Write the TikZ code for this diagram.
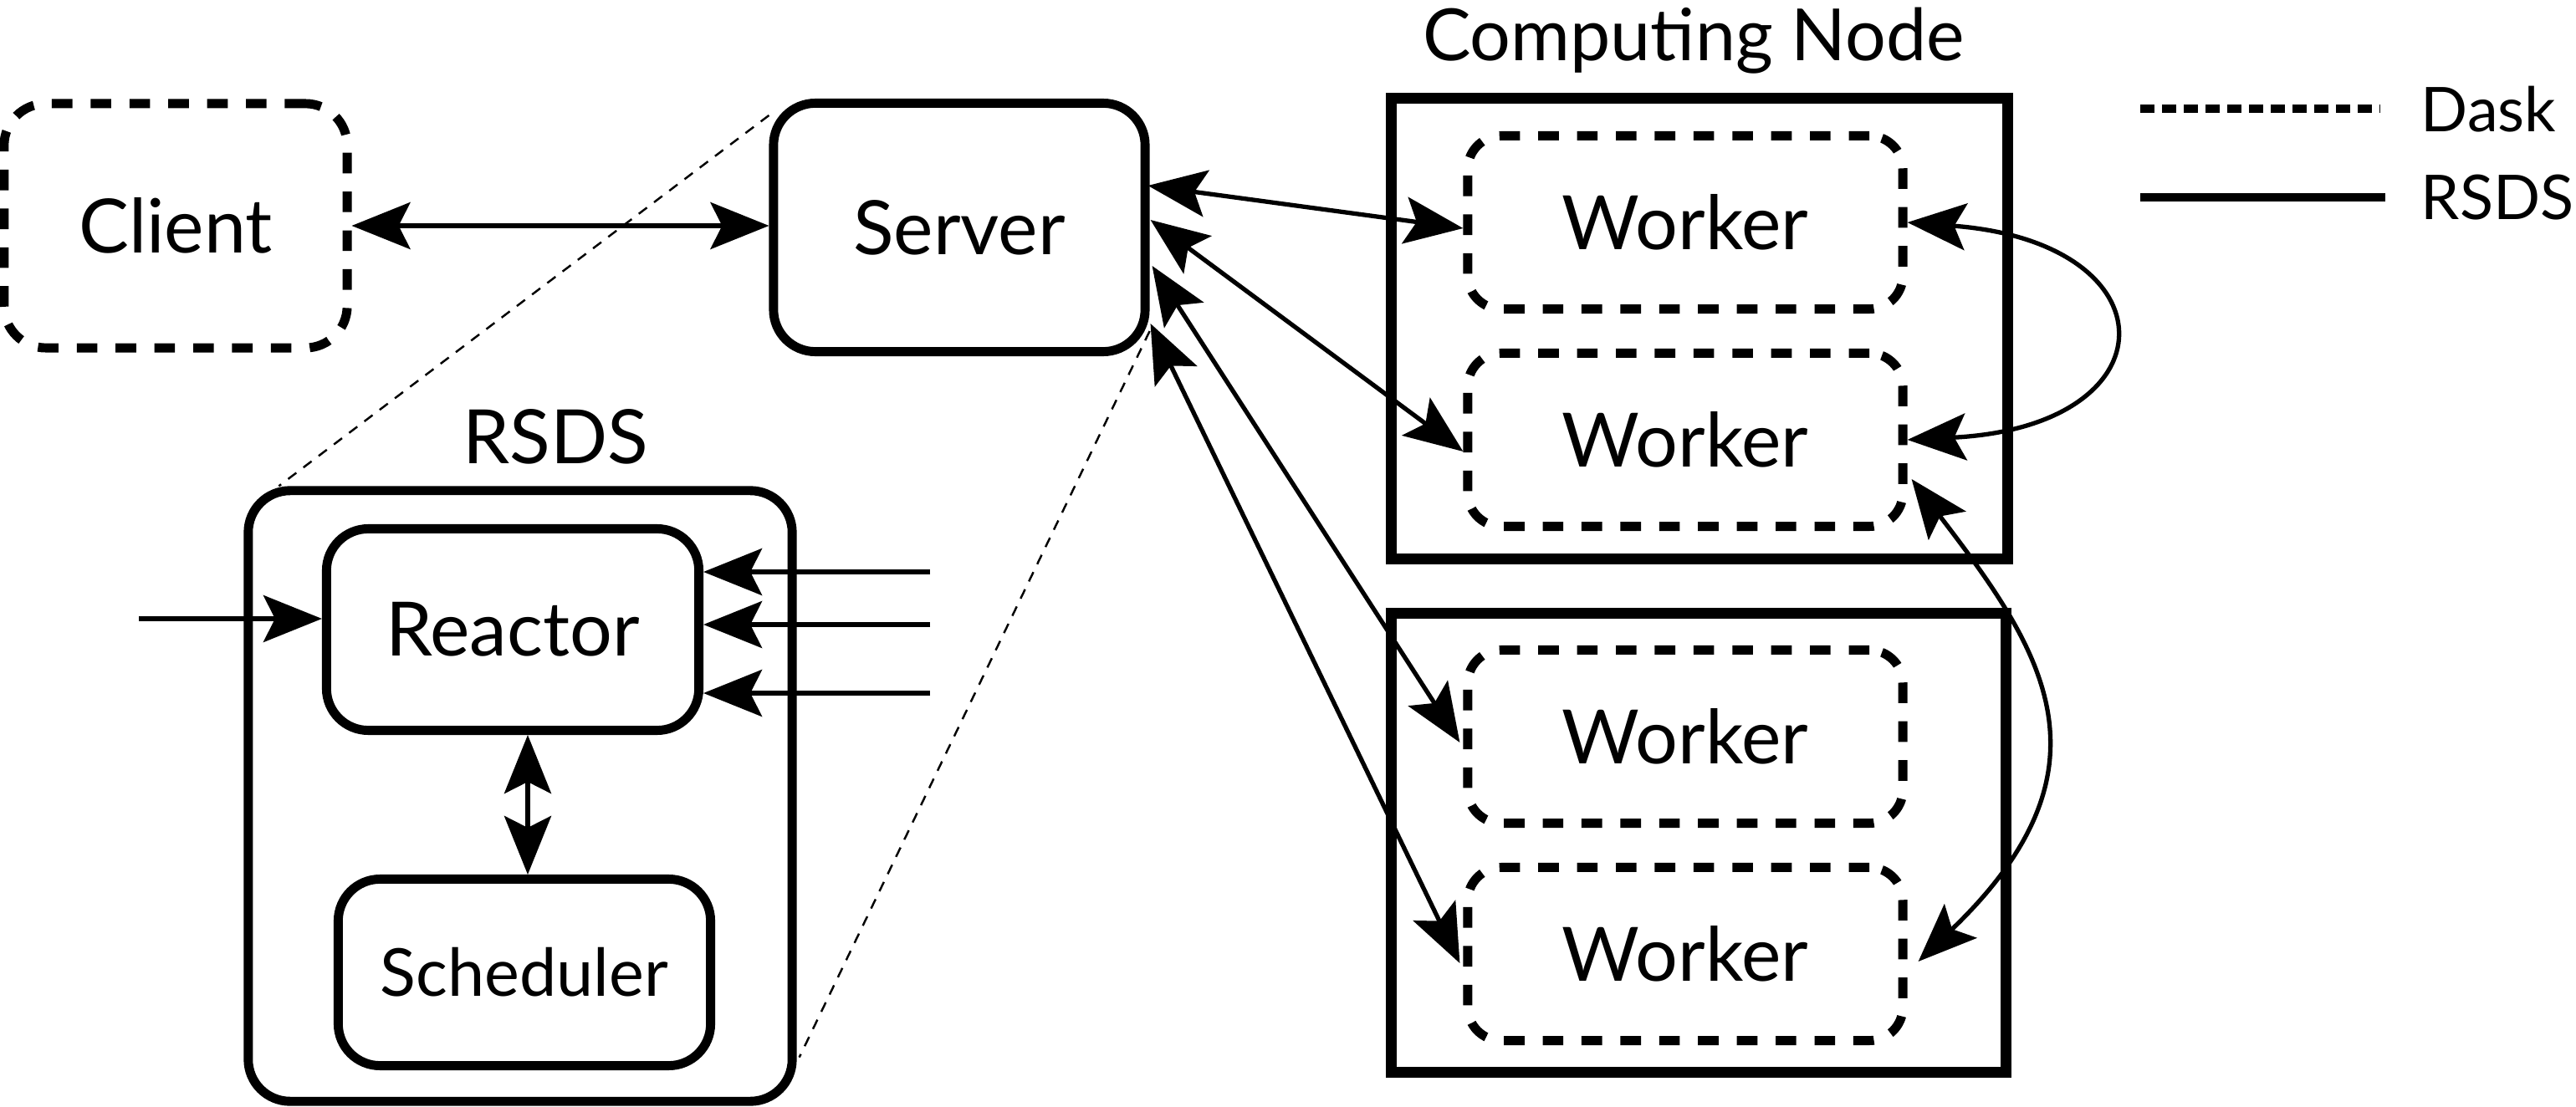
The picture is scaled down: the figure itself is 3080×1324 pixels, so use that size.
\documentclass[tikz,border=0pt]{standalone}
\usepackage{fontspec}
\setmainfont{Lato}
\usetikzlibrary{arrows.meta,calc}
\begin{document}
\begin{tikzpicture}[x=0.01cm,y=-0.01cm,
  lbl/.style={font=\fontsize{25.5}{30}\selectfont},
  box/.style={draw, rounded corners=0.5cm, line width=3.1pt, inner sep=0pt, lbl},
  dbox/.style={box, dash pattern=on 7pt off 6.2pt},
  wbox/.style={dbox, rounded corners=0.4cm, minimum width=5.2cm, minimum height=2.07cm},
  cbox/.style={draw, line width=3.7pt, inner sep=0pt},
  tip/.tip={Stealth[length=0.7cm,width=0.56cm,inset=0.14cm]},
  conn/.style={line width=1.5pt, tip-tip},
  arr/.style={line width=1.5pt, -tip},
  zoomline/.style={line width=0.7pt, dash pattern=on 3.5pt off 3pt},
]
\useasboundingbox (0,0) rectangle (3080,1324);

% computing nodes
\node[cbox, minimum width=7.36cm, minimum height=5.5cm] (cn1) at (2032,393) {};
\node[cbox, minimum width=7.35cm, minimum height=5.49cm] (cn2) at (2031,1008) {};
\node[anchor=base, inner sep=0pt, font=\fontsize{24.5}{29}\selectfont] (cnlabel) at (2025,72) {Computing Node};

% workers
\node[wbox] (w1) at (2015,266) {Worker};
\node[wbox] (w2) at (2015,526) {Worker};
\node[wbox] (w3) at (2015,881) {Worker};
\node[wbox] (w4) at (2015,1141) {Worker};

% client & server
\node[dbox, minimum width=4.1cm, minimum height=2.92cm] (client) at (210,270) {Client};
\node[box, minimum width=4.44cm, minimum height=2.97cm] (server) at (1147,272) {Server};

% RSDS detail
\node[box, minimum width=6.5cm, minimum height=7.3cm] (rsds) at (622,952) {};
\node[lbl, anchor=base] (rsdslabel) at (664,554) {RSDS};
\node[box, minimum width=4.45cm, minimum height=2.41cm] (reactor) at (613,753) {Reactor};
\node[box, minimum width=4.45cm, minimum height=2.23cm, font=\fontsize{22.5}{26}\selectfont] (scheduler) at (627,1163) {Scheduler};

% zoom lines
\draw[zoomline] ($(server.north west)+(0,20)$) -- ($(rsds.north west)+(42,0)$);
\draw[zoomline] ($(server.south east)+(0,-30)$) -- ($(rsds.south east)+(3,-58)$);

% client-server
\draw[conn] (client.east) -- (client.east -| server.west);

% server-workers
\draw[conn] ($(server.east)+(-2,-50)$) -- ($(w1.west)+(0,7)$);
\draw[conn] ($(server.east)+(1,-9)$) -- ($(w2.west)+(0,14)$);
\draw[conn] ($(server.east)+(3,46)$) -- ($(w3.west)+(-4,7)$);
\draw[conn] ($(server.east)+(1,115)$) -- ($(w4.west)+(-4,11)$);

% worker-worker
\draw[conn] (w1.east) .. controls (2600,290) and (2600,510) .. (w2.east);
\draw[conn] ($(w2.east)+(5,47)$) .. controls (2440,775) and (2538,916) .. ($(w4.east)+(13,9)$);

% reactor inputs
\coordinate (inL) at (166,740);
\coordinate (inR1) at (1112,684);
\coordinate (inR2) at (1112,747);
\coordinate (inR3) at (1112,829);
\draw[arr] (inL) -- (reactor.west |- inL);
\draw[arr] (inR1) -- (reactor.east |- inR1);
\draw[arr] (inR2) -- (reactor.east |- inR2);
\draw[arr] (inR3) -- (reactor.east |- inR3);
\draw[conn] ($(reactor.south)+(18,0)$) -- ($(scheduler.north)+(4,0)$);

% legend
\coordinate (l1a) at (2559,130);
\coordinate (l1b) at (2846,130);
\coordinate (l2a) at (2559,236);
\coordinate (l2b) at (2852,236);
\draw[line width=2.8pt, dash pattern=on 4.8pt off 2.6pt] (l1a) -- (l1b);
\draw[line width=2.8pt] (l2a) -- (l2b);
\node[anchor=base west, font=\fontsize{21}{25}\selectfont, inner sep=0pt] (ldask) at (2894,157) {Dask};
\node[anchor=base west, font=\fontsize{21}{25}\selectfont, inner sep=0pt] (lrsds) at (2894,262) {RSDS};
\end{tikzpicture}
\end{document}
